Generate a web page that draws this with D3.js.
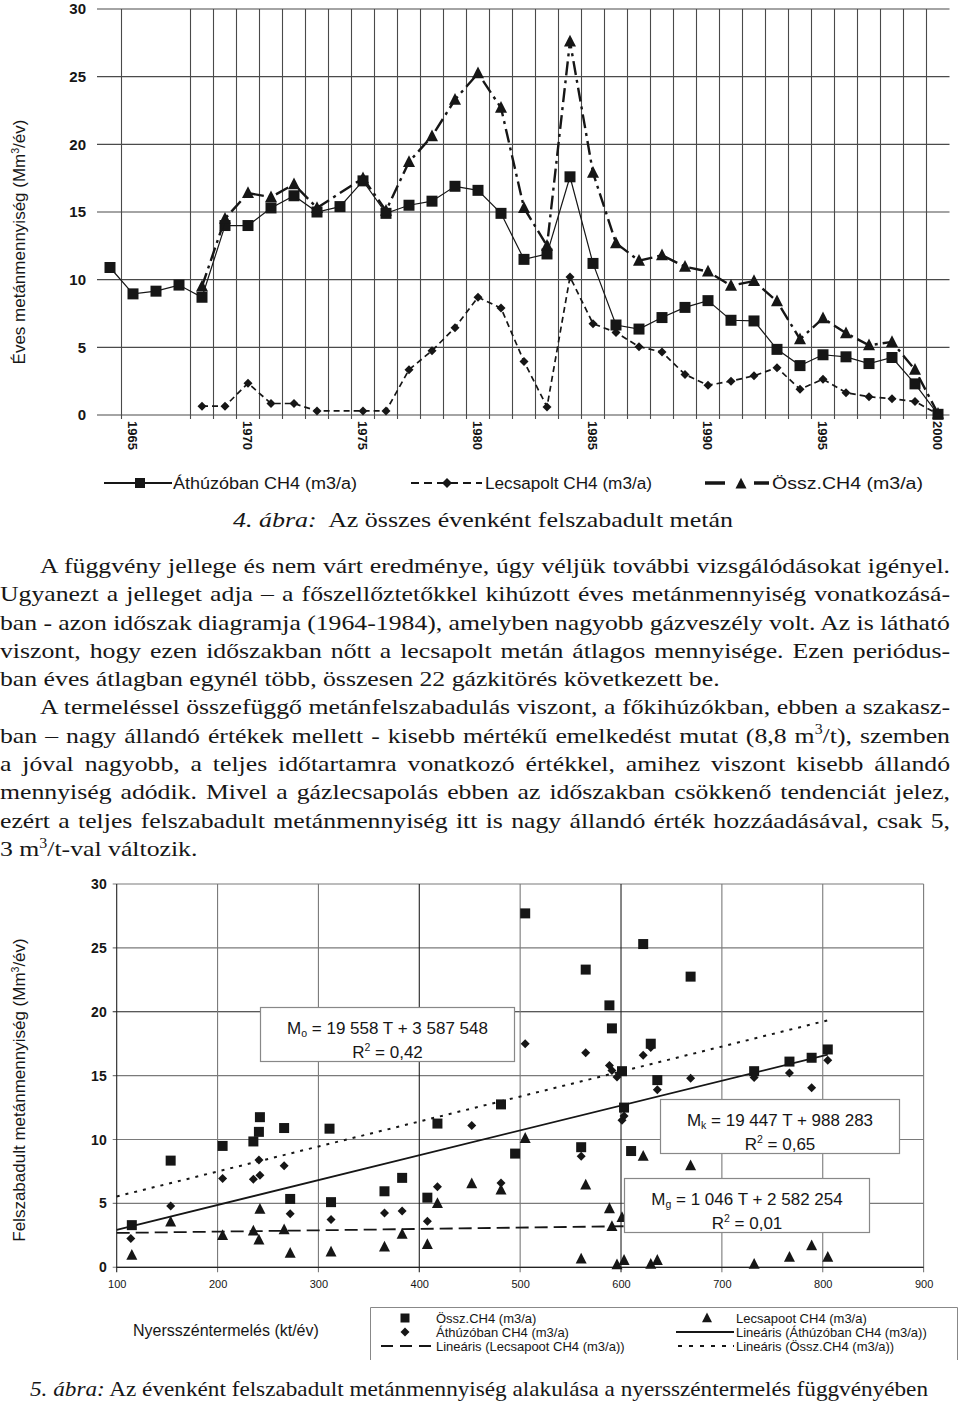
<!DOCTYPE html>
<html><head><meta charset="utf-8">
<script src="https://cdn.jsdelivr.net/npm/d3@7"></script>
<style>body{margin:0;background:#fff}svg{display:block}</style>
</head><body>
<svg id="c" width="960" height="1405"></svg>
<script>
// ---------- DATA: figure 4 (yearly methane) ----------
const years = [1964,1965,1966,1967,1968,1969,1970,1971,1972,1973,1974,1975,1976,1977,1978,1979,1980,1981,1982,1983,1984,1985,1986,1987,1988,1989,1990,1991,1992,1993,1994,1995,1996,1997,1998,1999,2000];
const athuzoTop = [10.9,8.95,9.15,9.6,8.7,14.0,14.0,15.3,16.2,15.0,15.4,17.3,14.9,15.5,15.8,16.9,16.6,14.9,11.5,11.9,17.6,11.2,6.65,6.35,7.2,7.95,8.45,7.0,6.95,4.85,3.65,4.45,4.3,3.8,4.25,2.3,0.05];
const lecsapoltTop = [null,null,null,null,0.65,0.65,2.35,0.85,0.85,0.3,null,0.3,0.3,3.35,4.75,6.45,8.7,7.9,3.95,0.6,10.2,6.75,6.1,5.05,4.65,3.0,2.2,2.5,2.9,3.5,1.9,2.65,1.65,1.35,1.2,1.0,0.05];
const osszTop = [null,null,null,null,9.5,14.5,16.4,16.1,17.05,15.3,null,17.5,15.1,18.7,20.6,23.3,25.25,22.7,15.3,12.5,27.6,17.9,12.7,11.4,11.8,10.95,10.6,9.55,9.9,8.4,5.6,7.15,6.05,5.15,5.4,3.35,0.1];
const yearLabels = [1965,1970,1975,1980,1985,1990,1995,2000];
const yTicksTop = [0,5,10,15,20,25,30];
const gridSkipYears = [1966,1967];
const legendTop = ["Áthúzóban CH4 (m3/a)","Lecsapolt CH4 (m3/a)","Össz.CH4 (m3/a)"];

// ---------- DATA: figure 5 (vs. coal production) ----------
const osszPts = [[115,3.3],[153.5,8.35],[205,9.5],[235.5,9.85],[241,10.6],[242,11.75],[266,10.9],[272,5.35],[311,10.85],[312.5,5.1],[365.5,5.95],[383,7.0],[408,5.45],[418,11.25],[452,17.7],[481,12.75],[495,8.9],[505,27.7],[560.5,9.4],[565,23.3],[588.5,20.5],[591,18.7],[601,15.35],[603,12.5],[610,9.1],[622,25.3],[629.5,17.5],[636,14.65],[669,22.75],[732,15.35],[767,16.1],[789,16.4],[805,17.05]];
const athuzoPts = [[114,2.25],[153.5,4.8],[205,6.95],[235.5,6.9],[241,8.4],[242,7.2],[266,7.95],[272,4.2],[312.5,3.75],[365.5,4.25],[383,4.4],[408,3.6],[418,6.3],[452,11.1],[481,6.6],[505,17.5],[560.5,8.7],[565,16.8],[588.5,15.8],[591,15.4],[596,14.9],[601,11.5],[603,11.85],[622,16.6],[629.5,17.2],[636,13.9],[669,14.8],[732,14.85],[767,15.2],[789,14.05],[805,16.2]];
const lecsapoPts = [[115,0.95],[153.5,3.55],[205,2.5],[235.5,2.85],[241,2.15],[242,4.55],[266,2.95],[272,1.1],[312.5,1.2],[365.5,1.6],[383,2.6],[408,1.8],[418,5.0],[452,6.55],[481,6.05],[505,10.1],[560.5,0.65],[565,6.45],[588.5,4.6],[591,3.2],[596,0.2],[601,3.9],[603,0.55],[622,8.7],[629.5,0.25],[636,0.55],[669,7.95],[732,0.25],[767,0.8],[789,1.7],[805,0.8]];
const xTicksBot = [100,200,300,400,500,600,700,800,900];
const yTicksBot = [0,5,10,15,20,25,30];
// trend lines: [slope, intercept] in Mm3 per kt, range of production
const trendOssz = [0.019558, 3.587548];
const trendAthuzo = [0.019447, 0.988283];
const trendLecsapo = [0.001046, 2.582254];
const trendRange = [100, 805];

// ---------- TEXT ----------
const paraLines = [
 ["A függvény jellege és nem várt eredménye, úgy véljük további vizsgálódásokat igényel.", 1, 1],
 ["Ugyanezt a jelleget adja – a főszellőztetőkkel kihúzott éves metánmennyiség vonatkozásá-", 0, 1],
 ["ban - azon időszak diagramja (1964-1984), amelyben nagyobb gázveszély volt. Az is látható", 0, 1],
 ["viszont, hogy ezen időszakban nőtt a lecsapolt metán átlagos mennyisége. Ezen periódus-", 0, 1],
 ["ban éves átlagban egynél több, összesen 22 gázkitörés következett be.", 0, 0],
 ["A termeléssel összefüggő metánfelszabadulás viszont, a főkihúzókban, ebben a szakasz-", 1, 1],
 ["ban – nagy állandó értékek mellett - kisebb mértékű emelkedést mutat (8,8 m^3/t), szemben", 0, 1],
 ["a jóval nagyobb, a teljes időtartamra vonatkozó értékkel, amihez viszont kisebb állandó", 0, 1],
 ["mennyiség adódik. Mivel a gázlecsapolás ebben az időszakban csökkenő tendenciát jelez,", 0, 1],
 ["ezért a teljes felszabadult metánmennyiség itt is nagy állandó érték hozzáadásával, csak 5,", 0, 1],
 ["3 m^3/t-val változik.", 0, 0]
];

const SANS = 'Arial, "Liberation Sans", Helvetica, sans-serif';
const SERIF = '"Liberation Serif", "Times New Roman", Times, serif';
const INK = '#161616';
const svg = d3.select('#c');

const shapes = {
  square: s => `M${-s/2},${-s/2}h${s}v${s}h${-s}Z`,
  diamond: s => `M0,${-s/2}L${s/2},0L0,${s/2}L${-s/2},0Z`,
  triangle: s => `M0,${-s*0.56}L${s/2},${s*0.42}L${-s/2},${s*0.42}Z`
};

// text with ^x superscripts and _x subscripts
function rich(text, str, size){
  const parts = str.split(/([\^_])(\w)/);
  let pending = 0;
  for (let i=0;i<parts.length;i++){
    const p = parts[i];
    if (p === '^' || p === '_'){
      const ch = parts[i+1]; i++;
      const sh = p === '^' ? -size*0.38 : size*0.22;
      text.append('tspan').attr('dy', sh + pending).attr('font-size', size*0.62).text(ch);
      pending = -sh;
    } else if (p) {
      const t = text.append('tspan').text(p);
      if (pending) { t.attr('dy', pending); pending = 0; }
    }
  }
  return text;
}

// ================= FIGURE 4 =================
const xT = d3.scaleBand().domain(years).range([98.5, 949.5]);
const yT = d3.scaleLinear().domain([0,30]).range([415, 9]);
const cx = d => xT(d) + xT.bandwidth()/2;
const gT = svg.append('g');

gT.append('g').selectAll('line').data(yTicksTop).join('line')
  .attr('x1', 97).attr('x2', 949.5).attr('y1', d=>yT(d)).attr('y2', d=>yT(d))
  .attr('stroke', '#4a4a4a').attr('stroke-width', 1.1);
gT.append('g').selectAll('line').data(years.filter(y => y > years[0] && !gridSkipYears.includes(y))).join('line')
  .attr('x1', d=>xT(d)).attr('x2', d=>xT(d)).attr('y1', yT(30)).attr('y2', yT(0)+4)
  .attr('stroke', '#4a4a4a').attr('stroke-width', 1.1);

gT.append('g').attr('transform','translate(97,0)')
  .call(d3.axisLeft(yT).tickValues(yTicksTop).tickSize(0).tickPadding(11))
  .call(g=>g.select('.domain').remove())
  .selectAll('text').attr('font-family', SANS).attr('font-weight','bold').attr('font-size',15).attr('fill',INK);

gT.append('g').attr('transform',`translate(0,${yT(0)})`)
  .call(d3.axisBottom(xT).tickValues(yearLabels).tickSize(0))
  .call(g=>g.select('.domain').remove())
  .selectAll('text').attr('transform','rotate(90)').attr('x',6).attr('y',0).attr('dy','.36em')
  .attr('text-anchor','start').attr('font-family', SANS).attr('font-weight','bold').attr('font-size',13).attr('fill',INK);

rich(gT.append('text').attr('transform','translate(25,242) rotate(-90)').attr('text-anchor','middle')
  .attr('font-family',SANS).attr('font-size',17).attr('fill',INK), 'Éves metánmennyiség (Mm^3/év)', 17);

function topSeries(vals, style){
  const data = years.map((y,i)=>({year:y, v:vals[i]})).filter(d=>d.v!=null);
  const line = d3.line().x(d=>cx(d.year)).y(d=>yT(d.v));
  gT.append('path').datum(data).attr('d', line).attr('fill','none').attr('stroke',INK)
    .attr('stroke-width', style.w).attr('stroke-dasharray', style.dash || null);
  gT.append('g').selectAll('path').data(data).join('path')
    .attr('transform', d=>`translate(${cx(d.year)},${yT(d.v)})`)
    .attr('d', shapes[style.shape](style.size)).attr('fill', INK);
}
topSeries(athuzoTop, {w:1.2, shape:'square', size:11});
topSeries(lecsapoltTop, {w:1.7, dash:'6,4', shape:'diamond', size:9});
topSeries(osszTop, {w:2.4, dash:'14,5,3,5', shape:'triangle', size:12});

// legend fig 4
const lg = svg.append('g').attr('font-family',SANS).attr('font-size',16).attr('fill',INK);
lg.append('line').attr('x1',104).attr('x2',172).attr('y1',483).attr('y2',483).attr('stroke',INK).attr('stroke-width',2.2);
lg.append('path').attr('transform','translate(140,483)').attr('d',shapes.square(10)).attr('fill',INK);
lg.append('line').attr('x1',411).attr('x2',482).attr('y1',483).attr('y2',483).attr('stroke',INK).attr('stroke-width',2).attr('stroke-dasharray','8,5');
lg.append('path').attr('transform','translate(447,483)').attr('d',shapes.diamond(10)).attr('fill',INK);
lg.append('line').attr('x1',705).attr('x2',725).attr('y1',483).attr('y2',483).attr('stroke',INK).attr('stroke-width',3.5);
lg.append('line').attr('x1',754).attr('x2',769).attr('y1',483).attr('y2',483).attr('stroke',INK).attr('stroke-width',3.5);
lg.append('path').attr('transform','translate(741,484)').attr('d',shapes.triangle(11)).attr('fill',INK);
[[173,184],[485,167],[772,151]].forEach((p,i)=>{
  lg.append('text').attr('x',p[0]).attr('y',489).attr('textLength',p[1]).attr('lengthAdjust','spacingAndGlyphs').text(legendTop[i]);
});

// serif text is set a little wider than Liberation Serif
const SX = 1.17;

// caption 4
const c4 = svg.append('text').attr('transform','translate(233,527) scale(1.18,1)').attr('font-family',SERIF).attr('font-size',22).attr('fill',INK);
c4.append('tspan').attr('font-style','italic').text('4. ábra:');
c4.append('tspan').text('\u00A0 Az összes évenként felszabadult metán');

// ================= PARAGRAPHS =================
const pg = svg.append('g').attr('transform',`scale(${SX},1)`).attr('font-family',SERIF).attr('font-size',22).attr('fill',INK);
paraLines.forEach((ln,i)=>{
  const x0 = ln[1] ? 40 : 0;
  const t = pg.append('text').attr('x',x0/SX).attr('y',573 + i*28.3);
  rich(t, ln[0], 22);
  if (ln[2]){
    const w = t.node().getComputedTextLength();
    const spaces = (ln[0].match(/ /g)||[]).length;
    t.attr('word-spacing', ((950 - x0)/SX - w)/spaces);
  }
});

// ================= FIGURE 5 =================
const xB = d3.scaleLinear().domain([100,900]).range([116.7, 923.6]);
const yB = d3.scaleLinear().domain([0,30]).range([1267.3, 884]);
const gB = svg.append('g');
gB.append('g').selectAll('line').data(yTicksBot).join('line')
  .attr('x1', xB(100)-4).attr('x2', xB(900)).attr('y1', d=>yB(d)).attr('y2', d=>yB(d))
  .attr('stroke', d => d===20 ? '#222' : '#7a7a7a').attr('stroke-width',1.1);
gB.append('g').selectAll('line').data(xTicksBot).join('line')
  .attr('x1', d=>xB(d)).attr('x2', d=>xB(d)).attr('y1', yB(30)).attr('y2', yB(0)+5)
  .attr('stroke', d => (d===400||d===600||d===100) ? '#222' : '#7a7a7a').attr('stroke-width',1.1);
gB.append('line').attr('x1',xB(100)).attr('x2',xB(900)).attr('y1',yB(0)).attr('y2',yB(0)).attr('stroke','#222').attr('stroke-width',1.2);

gB.append('g').attr('transform',`translate(${xB(100)},0)`)
  .call(d3.axisLeft(yB).tickValues(yTicksBot).tickSize(0).tickPadding(10))
  .call(g=>g.select('.domain').remove())
  .selectAll('text').attr('font-family',SANS).attr('font-weight','bold').attr('font-size',14).attr('fill',INK);
gB.append('g').attr('transform',`translate(0,${yB(0)})`)
  .call(d3.axisBottom(xB).tickValues(xTicksBot).tickSize(0).tickPadding(13))
  .call(g=>g.select('.domain').remove())
  .selectAll('text').attr('font-family',SANS).attr('font-size',11).attr('fill',INK);

rich(gB.append('text').attr('transform','translate(25,1090) rotate(-90)').attr('text-anchor','middle')
  .attr('font-family',SANS).attr('font-size',17).attr('fill',INK), 'Felszabadult metánmennyiség (Mm^3/év)', 17);

function trend(coef, style){
  const pts = trendRange.map(x => [x, coef[0]*x + coef[1]]);
  gB.append('path').datum(pts).attr('d', d3.line().x(d=>xB(d[0])).y(d=>yB(d[1])))
    .attr('fill','none').attr('stroke',INK).attr('stroke-width',style.w).attr('stroke-dasharray',style.dash||null);
}
function scatter(pts, shape, size){
  gB.append('g').selectAll('path').data(pts).join('path')
    .attr('transform', d=>`translate(${xB(d[0])},${yB(d[1])})`).attr('d', shapes[shape](size)).attr('fill',INK);
}
scatter(lecsapoPts,'triangle',11);
scatter(athuzoPts,'diamond',9);
scatter(osszPts,'square',10);
trend(trendAthuzo,{w:1.8});
trend(trendOssz,{w:2,dash:'3,6'});
trend(trendLecsapo,{w:1.8,dash:'13,6'});

function eqBox(x,y,w,h,line1,line2){
  gB.append('rect').attr('x',x).attr('y',y).attr('width',w).attr('height',h).attr('fill','#fff').attr('stroke','#888').attr('stroke-width',1.2);
  const g = gB.append('g').attr('font-family',SANS).attr('font-size',17).attr('fill',INK).attr('text-anchor','middle');
  rich(g.append('text').attr('x',x+w/2).attr('y',y+26), line1, 17);
  rich(g.append('text').attr('x',x+w/2).attr('y',y+50), line2, 17);
}
eqBox(260.5,1007.5,254,54,'M_o = 19 558 T + 3 587 548','R^2 = 0,42');
eqBox(660.5,1099.5,239,54,'M_k = 19 447 T + 988 283','R^2 = 0,65');
eqBox(624.5,1178.5,245,54,'M_g = 1 046 T + 2 582 254','R^2 = 0,01');

svg.append('text').attr('x',133).attr('y',1336).attr('font-family',SANS).attr('font-size',16).attr('fill',INK).text('Nyersszéntermelés (kt/év)');

// legend fig 5
const lb = svg.append('g').attr('font-family',SANS).attr('font-size',13).attr('fill',INK);
lb.append('path').attr('d','M370.5,1360V1307.5H957.5V1360').attr('fill','none').attr('stroke','#888');
const legRows = [1318,1332,1346];
lb.append('path').attr('transform',`translate(405,${legRows[0]})`).attr('d',shapes.square(9)).attr('fill',INK);
lb.append('path').attr('transform',`translate(707,${legRows[0]})`).attr('d',shapes.triangle(10)).attr('fill',INK);
lb.append('path').attr('transform',`translate(405,${legRows[1]})`).attr('d',shapes.diamond(9)).attr('fill',INK);
lb.append('line').attr('x1',676).attr('x2',734).attr('y1',legRows[1]).attr('y2',legRows[1]).attr('stroke',INK).attr('stroke-width',1.8);
lb.append('line').attr('x1',381).attr('x2',434).attr('y1',legRows[2]).attr('y2',legRows[2]).attr('stroke',INK).attr('stroke-width',2).attr('stroke-dasharray','12,7');
lb.append('line').attr('x1',678).attr('x2',734).attr('y1',legRows[2]).attr('y2',legRows[2]).attr('stroke',INK).attr('stroke-width',2).attr('stroke-dasharray','4,7');
const legBot = [["Össz.CH4 (m3/a)",436,0],["Lecsapoot CH4 (m3/a)",736,0],["Áthúzóban CH4 (m3/a)",436,1],["Lineáris (Áthúzóban CH4 (m3/a))",736,1],["Lineáris (Lecsapoot CH4 (m3/a))",436,2],["Lineáris (Össz.CH4 (m3/a))",736,2]];
legBot.forEach(d=>lb.append('text').attr('x',d[1]).attr('y',legRows[d[2]]+4.5).text(d[0]));

// caption 5
const c5 = svg.append('text').attr('x',30).attr('y',1396).attr('font-family',SERIF).attr('font-size',22).attr('fill',INK)
  .attr('textLength',898).attr('lengthAdjust','spacingAndGlyphs');
c5.append('tspan').attr('font-style','italic').text('5. ábra:');
c5.append('tspan').text(' Az évenként felszabadult metánmennyiség alakulása a nyersszéntermelés függvényében');
</script>
</body></html>
